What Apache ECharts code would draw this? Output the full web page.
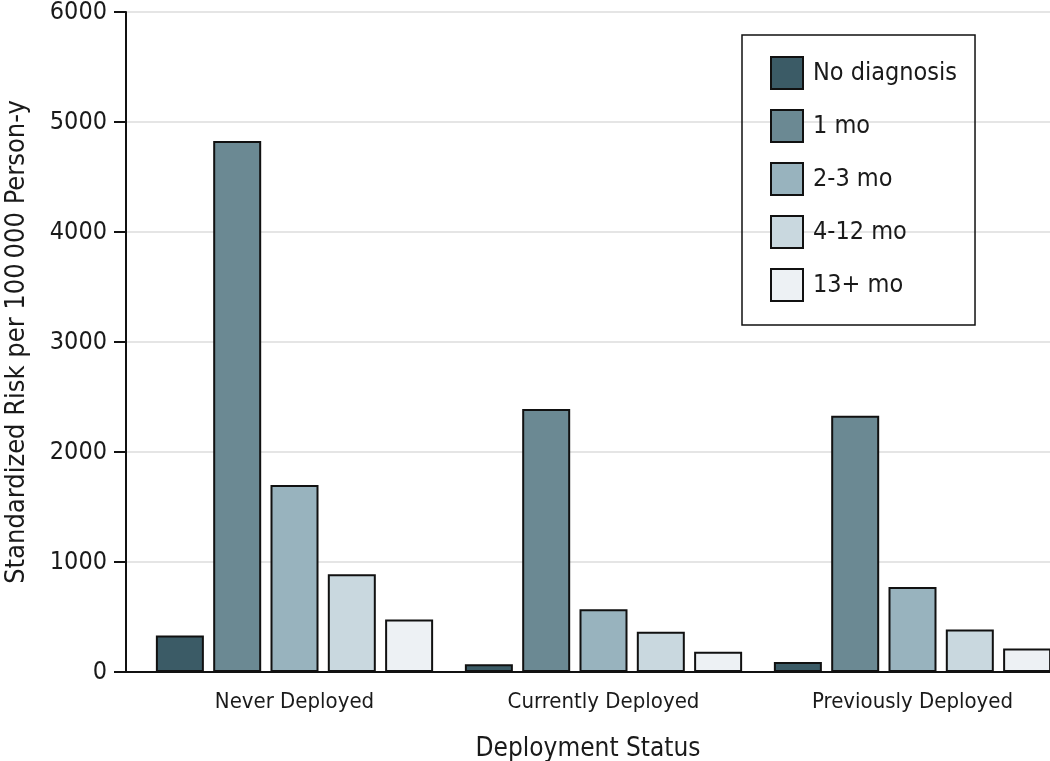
<!DOCTYPE html>
<html>
<head>
<meta charset="utf-8">
<script src="https://cdn.jsdelivr.net/npm/echarts@6/dist/echarts.min.js"></script>
<style>
html,body{margin:0;padding:0;background:#fff;}
#chart{width:1050px;height:761px;}
</style>
</head>
<body>
<div id="chart"></div>
<script>
const categories = ['Never Deployed', 'Currently Deployed', 'Previously Deployed'];
const seriesNames = ['No diagnosis', '1 mo', '2-3 mo', '4-12 mo', '13+ mo'];
const noDiagnosis = [332, 70, 92];
const oneMonth = [4828, 2390, 2330];
const twoToThreeMonths = [1700, 570, 772];
const fourToTwelveMonths = [888, 365, 387];
const thirteenPlusMonths = [477, 183, 214];
const yTicks = [0, 1000, 2000, 3000, 4000, 5000, 6000];

const seriesValues = [noDiagnosis, oneMonth, twoToThreeMonths, fourToTwelveMonths, thirteenPlusMonths];
const colors = ['#3b5b66', '#6b8993', '#98b3be', '#c9d8df', '#edf1f4'];
const FONT = 'DejaVu Sans Condensed';
const TXT = '#1a1a1a';

const chart = echarts.init(document.getElementById('chart'), null, {renderer: 'canvas'});
chart.setOption({
  backgroundColor: '#fff',
  animation: false,
  textStyle: {fontFamily: FONT, color: TXT},
  legend: {
    orient: 'vertical',
    left: 742, top: 35,
    padding: [21, 18, 23, 28],
    itemWidth: 32, itemHeight: 32, itemGap: 19,
    icon: 'rect',
    borderColor: '#111', borderWidth: 1.5,
    textStyle: {fontFamily: FONT, fontSize: 25, color: TXT, lineHeight: 30, padding: [0, 0, 0, 5]},
    data: seriesNames
  },
  grid: [
    {left: 126, right: 0, top: 12, bottom: 89, containLabel: false, outerBoundsMode: 'none'},
    {left: 140, width: 927, top: 12, bottom: 89, containLabel: false, outerBoundsMode: 'none'}
  ],
  xAxis: [
    {
      gridIndex: 0, type: 'value', min: 0, max: 1,
      axisLine: {show: true, onZero: false, lineStyle: {color: '#111', width: 2}},
      axisTick: {show: false}, axisLabel: {show: false}, splitLine: {show: false},
      name: 'Deployment Status', nameLocation: 'middle', nameGap: 64,
      nameTextStyle: {fontFamily: FONT, fontSize: 26, color: TXT}
    },
    {
      gridIndex: 1, type: 'category', data: categories,
      axisLine: {show: false}, axisTick: {show: false},
      axisLabel: {fontFamily: FONT, fontSize: 22, color: TXT, margin: 19}
    }
  ],
  yAxis: [
    {
      gridIndex: 0, type: 'value', min: yTicks[0], max: yTicks[yTicks.length - 1], interval: 1000,
      axisLine: {show: true, lineStyle: {color: '#111', width: 2}},
      axisTick: {show: true, length: 12, lineStyle: {color: '#111', width: 2}},
      axisLabel: {fontFamily: FONT, fontSize: 25, color: TXT, margin: 19, formatter: v => String(v)},
      splitLine: {show: true, lineStyle: {color: '#e5e5e5', width: 2}},
      name: 'Standardized Risk per 100\u2009000 Person-y', nameLocation: 'middle', nameGap: 96,
      nameTextStyle: {fontFamily: FONT, fontSize: 27, color: TXT}
    },
    {
      gridIndex: 1, type: 'value', min: yTicks[0], max: yTicks[yTicks.length - 1],
      show: false, splitLine: {show: false}
    }
  ],
  series: seriesNames.map((name, i) => ({
    name: name,
    type: 'bar',
    xAxisIndex: 1, yAxisIndex: 1,
    barWidth: 48,
    barGap: '19.4%',
    data: seriesValues[i],
    itemStyle: {color: colors[i], borderColor: '#111', borderWidth: 2}
  }))
});
</script>
</body>
</html>
